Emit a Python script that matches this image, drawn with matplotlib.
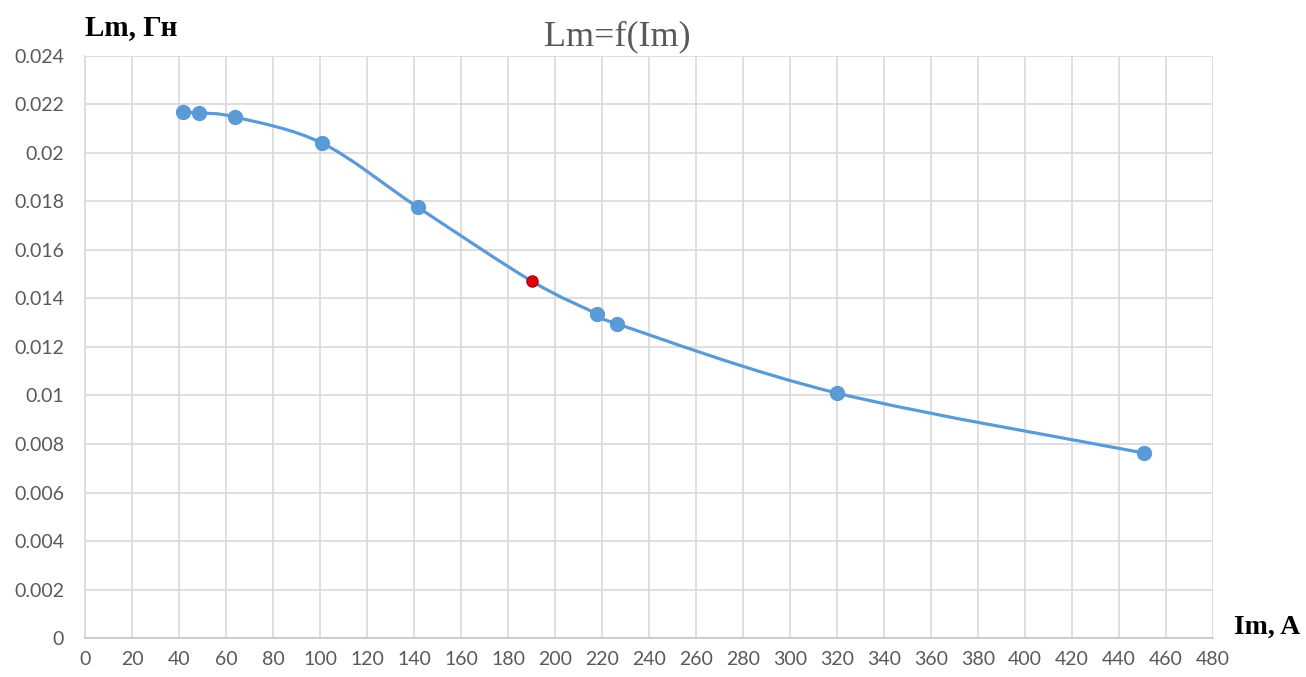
import numpy as np
import matplotlib
matplotlib.use("Agg")
from matplotlib import pyplot as plt
from matplotlib.path import Path
from matplotlib.patches import PathPatch

# data
im_values = [41.5, 48.5, 64, 101, 141.5, 218, 226.5, 320, 450.5]
lm_values = [0.02169, 0.02165, 0.02148, 0.02040, 0.01777, 0.01336, 0.01295, 0.0101, 0.00763]
red_im = 190
red_lm = 0.01472

x_ticks = list(range(0, 481, 20))
y_ticks = [i * 0.002 for i in range(13)]
y_tick_labels = ["0", "0.002", "0.004", "0.006", "0.008", "0.01", "0.012",
                 "0.014", "0.016", "0.018", "0.02", "0.022", "0.024"]

BLUE = "#5b9bd5"
GRID = "#d9d9d9"
TEXT = "#595959"


def smooth_path(xs, ys):
    # excel-like smoothed line: cubic bezier segments through every point
    pts = np.column_stack([xs, ys])
    n = len(pts)
    verts = [pts[0]]
    codes = [Path.MOVETO]
    for i in range(n - 1):
        p0 = pts[max(i - 1, 0)]
        p1 = pts[i]
        p2 = pts[i + 1]
        p3 = pts[min(i + 2, n - 1)]
        c1 = p1 + (p2 - p0) / 6.0
        c2 = p2 - (p3 - p1) / 6.0
        verts += [c1, c2, p2]
        codes += [Path.CURVE4] * 3
    return Path(verts, codes)


fig = plt.figure(figsize=(13.06, 6.77), dpi=100)
ax = fig.add_axes([0.0651, 0.0576, 0.8637, 0.8597])

# curve passes through the highlighted point too
all_pts = sorted(zip(im_values + [red_im], lm_values + [red_lm]))
cx = [p[0] for p in all_pts]
cy = [p[1] for p in all_pts]
ax.add_patch(PathPatch(smooth_path(cx, cy), facecolor="none", edgecolor=BLUE,
                       linewidth=2.3, zorder=3))
ax.plot(im_values, lm_values, linestyle="none", marker="o", markersize=10,
        color=BLUE, zorder=4)
ax.plot([red_im], [red_lm], linestyle="none", marker="o", markersize=8,
        color="#e00010", markeredgecolor="#b00010", zorder=5)

ax.set_xlim(0, 480)
ax.set_ylim(0, 0.024)
ax.set_xticks(x_ticks)
ax.set_yticks(y_ticks)
ax.set_xticklabels([str(v) for v in x_ticks])
ax.set_yticklabels(y_tick_labels)
ax.tick_params(axis="both", length=0, labelsize=14, labelcolor=TEXT)
ax.tick_params(axis="x", pad=9)
ax.tick_params(axis="y", pad=15)
for lbl in ax.get_xticklabels() + ax.get_yticklabels():
    lbl.set_family(["Lato", "DejaVu Sans"])

ax.grid(True, color=GRID, linewidth=1.2)
ax.set_axisbelow(True)
for side in ["top", "right"]:
    ax.spines[side].set_visible(False)
ax.spines["left"].set_color(GRID)
ax.spines["left"].set_linewidth(1.2)
ax.spines["bottom"].set_color("#c8c8c8")
ax.spines["bottom"].set_linewidth(1.2)

fig.text(0.473, 0.945, "Lm=f(Im)", ha="center", va="center", fontsize=26,
         color=TEXT, family=["Liberation Serif", "DejaVu Serif"])
fig.text(0.065, 0.96, "Lm, Гн", ha="left", va="center", fontsize=21,
         fontweight="bold", color="black", family=["Liberation Serif", "DejaVu Serif"])
fig.text(0.996, 0.073, "Im, A", ha="right", va="center", fontsize=20,
         fontweight="bold", color="black", family=["Liberation Serif", "DejaVu Serif"])

plt.savefig("out.png", dpi=100)
